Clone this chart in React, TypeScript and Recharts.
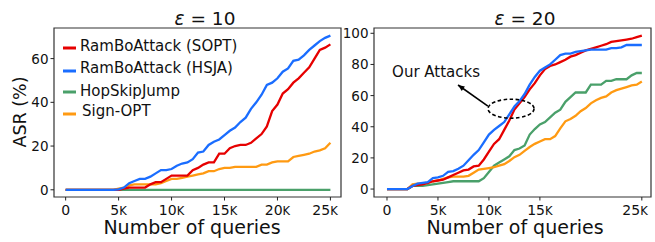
import React from "react";
import {
  LineChart,
  Line,
  XAxis,
  YAxis,
  ReferenceArea,
  ReferenceDot,
  ReferenceLine,
} from "recharts";

const FONT = "DejaVu Sans, sans-serif";

const queries = [
  0, 500, 1000, 1500, 2000, 2500, 3000, 3500, 4000, 4500, 5000, 5500, 6000, 6500, 7000, 7500, 8000,
  8500, 9000, 9500, 10000, 10500, 11000, 11500, 12000, 12500, 13000, 13500, 14000, 14500, 15000,
  15500, 16000, 16500, 17000, 17500, 18000, 18500, 19000, 19500, 20000, 20500, 21000, 21500, 22000,
  22500, 23000, 23500, 24000, 24500, 25000,
];

const xTicks = [0, 5000, 10000, 15000, 20000, 25000];
const yTicksEps10 = [0, 20, 40, 60];
const yTicksEps20 = [0, 20, 40, 60, 80, 100];

// eps = 10
const soptEps10 = [
  0, 0, 0, 0, 0, 0, 0, 0, 0, 0, 0, 0.5, 1, 1, 1, 1, 2.5, 3.5, 3.5, 5, 6.5, 6.5, 6.5, 6.5, 9, 10,
  11.5, 12.5, 12.5, 16.5, 16.5, 19, 20, 20.5, 20.5, 21.5, 23.5, 25.5, 29, 36, 39, 44, 46, 49, 51,
  53.5, 56, 60, 64, 65, 66.5,
];
const hsjaEps10 = [
  0, 0, 0, 0, 0, 0, 0, 0, 0, 0, 0.2, 1, 3, 4, 5, 5, 6, 7.5, 9, 9, 9.5, 11, 12, 12.5, 14, 17, 17.5,
  20.5, 22, 23, 25, 27, 28.5, 31, 33, 37, 40, 43.5, 48, 49, 51, 54, 55.5, 59, 59.5, 61.5, 64, 66,
  68, 69.5, 70.5,
];
const hopEps10 = [
  0, 0, 0, 0, 0, 0, 0, 0, 0, 0, 0, 0, 0, 0, 0, 0, 0, 0, 0, 0, 0, 0, 0, 0, 0, 0, 0, 0, 0, 0, 0, 0,
  0, 0, 0, 0, 0, 0, 0, 0, 0, 0, 0, 0, 0, 0, 0, 0, 0, 0, 0,
];
const signEps10 = [
  0, 0, 0, 0, 0, 0, 0, 0, 0, 0, 0.5, 1, 2, 2.5, 2.5, 2.5, 2.5, 2.5, 3, 4, 5, 5, 5.5, 6, 6.5, 7,
  7.5, 8.5, 8.5, 9.5, 10, 10, 10.5, 10.5, 10.5, 10.5, 10.5, 11.5, 11.5, 12.5, 13, 13, 13, 15, 15.5,
  16, 16.5, 17.5, 18, 19, 21.5,
];

// eps = 20
const soptEps20 = [
  0, 0, 0, 0, 0, 2, 2.5, 3, 4, 5, 5.5, 6, 7.5, 9, 10.5, 12, 12.5, 14.5, 15, 19, 24, 29, 32, 38, 44,
  51, 55, 59, 64, 68, 73, 77, 79, 80, 81.5, 83, 85, 86, 87.5, 89, 90, 91, 92, 93, 94.5, 95, 95.5,
  96, 96.5, 97.5, 98.5,
];
const hsjaEps20 = [
  0, 0, 0, 0, 0, 2, 3.5, 4, 4.5, 7, 7.5, 8.5, 11, 11.5, 13, 15, 18.5, 22, 25, 30, 35, 38, 40.5, 43,
  48, 53, 56.5, 61, 67, 72, 76, 78, 80, 83, 86, 87, 87, 88, 88.5, 89, 89.5, 89.5, 89.5, 89.5, 90.5,
  90.5, 91, 92.5, 92.5, 92.5, 92.5,
];
const hopEps20 = [
  0, 0, 0, 0, 0, 2, 2, 2, 2.5, 3, 3.5, 4, 4.5, 5, 5, 5, 5, 5, 5, 7, 11, 15, 17, 19, 21, 25, 26, 28,
  35, 38.5, 41.5, 43, 46, 49, 51, 56, 59, 62, 62, 62, 67, 67, 67, 69.5, 69.5, 70.5, 70.5, 70.5, 73,
  74.5, 74.5,
];
const signEps20 = [
  0, 0, 0, 0, 0, 3, 3.5, 3.5, 4, 5, 5.5, 6.5, 7.5, 8, 8, 8, 8.5, 10.5, 12.5, 13, 13.5, 14, 15, 16,
  18, 20.5, 22, 24.5, 27, 29, 30.5, 32, 32, 34, 39, 43.5, 45, 47, 50, 52, 55, 57, 58.5, 59.5, 62,
  63.5, 64.5, 65.5, 66.5, 67, 69,
];

const seriesNames = ["RamBoAttack (SOPT)", "RamBoAttack (HSJA)", "HopSkipJump", "Sign-OPT"];
const seriesColors = ["#e60000", "#1a6dff", "#4aa06a", "#ff9a12"];

const buildRows = (sopt: number[], hsja: number[], hop: number[], sign: number[]) =>
  queries.map((q, i) => ({ q, sopt: sopt[i], hsja: hsja[i], hop: hop[i], sign: sign[i] }));

const rowsEps10 = buildRows(soptEps10, hsjaEps10, hopEps10, signEps10);
const rowsEps20 = buildRows(soptEps20, hsjaEps20, hopEps20, signEps20);

function KTick(props: any) {
  const { x, y, payload } = props;
  const v = payload.value as number;
  return (
    <text x={x} y={y + 12} textAnchor="middle" fontFamily={FONT} fontSize={14} fill="#111">
      {v === 0 ? (
        "0"
      ) : (
        <>
          <tspan>{v / 1000}</tspan>
          <tspan fontSize={11.5}>K</tspan>
        </>
      )}
    </text>
  );
}

function YTick(props: any) {
  const { x, y, payload } = props;
  return (
    <text x={x} y={y} dy={5} textAnchor="end" fontFamily={FONT} fontSize={13.5} fill="#111">
      {payload.value}
    </text>
  );
}

function Panel({
  rows,
  xDomain,
  yDomain,
  yTicks,
  width,
  yAxisWidth,
  children,
}: {
  rows: any[];
  xDomain: [number, number];
  yDomain: [number, number];
  yTicks: number[];
  width: number;
  yAxisWidth: number;
  children?: React.ReactNode;
}) {
  return (
    <LineChart width={width} height={242} data={rows} margin={{ top: 28, right: 4, bottom: 0, left: 0 }}>
      <XAxis
        dataKey="q"
        type="number"
        domain={xDomain}
        ticks={xTicks}
        height={45}
        axisLine={false}
        tickSize={3.5}
        tickLine={{ stroke: "#222" }}
        tick={<KTick />}
        allowDataOverflow
      />
      <YAxis
        type="number"
        domain={yDomain}
        ticks={yTicks}
        width={yAxisWidth}
        axisLine={false}
        tickSize={3.5}
        tickLine={{ stroke: "#222" }}
        tick={<YTick />}
        allowDataOverflow
      />
      <ReferenceArea
        x1={xDomain[0]}
        x2={xDomain[1]}
        y1={yDomain[0]}
        y2={yDomain[1]}
        fill="none"
        stroke="#333"
        strokeWidth={1.2}
        ifOverflow="visible"
      />
      <Line dataKey="hop" stroke={seriesColors[2]} strokeWidth={2.3} dot={false} isAnimationActive={false} />
      <Line dataKey="sign" stroke={seriesColors[3]} strokeWidth={2.3} dot={false} isAnimationActive={false} />
      <Line dataKey="sopt" stroke={seriesColors[0]} strokeWidth={2.3} dot={false} isAnimationActive={false} />
      <Line dataKey="hsja" stroke={seriesColors[1]} strokeWidth={2.3} dot={false} isAnimationActive={false} />
      {children}
    </LineChart>
  );
}

function ArrowShape(props: any) {
  const { x1, y1, x2, y2 } = props;
  const ang = Math.atan2(y2 - y1, x2 - x1);
  const len = 7;
  const spread = 0.4;
  const ax = x2 - len * Math.cos(ang - spread);
  const ay = y2 - len * Math.sin(ang - spread);
  const bx = x2 - len * Math.cos(ang + spread);
  const by = y2 - len * Math.sin(ang + spread);
  return (
    <g>
      <line x1={x1} y1={y1} x2={x2} y2={y2} stroke="#000" strokeWidth={1.6} />
      <polygon points={`${x2},${y2} ${ax},${ay} ${bx},${by}`} fill="#000" />
    </g>
  );
}

export default function App() {
  return (
    <div style={{ position: "absolute", left: 0, top: 0, width: 655, height: 242, background: "#fff" }}>
      <div style={{ position: "absolute", left: 0, top: 0 }}>
        <Panel rows={rowsEps10} xDomain={[-1100, 26000]} yDomain={[-3.3, 74]} yTicks={yTicksEps10} width={345} yAxisWidth={54} />
      </div>
      <div style={{ position: "absolute", left: 330, top: 0 }}>
        <Panel rows={rowsEps20} xDomain={[-1275, 25900]} yDomain={[-5.1, 103.4]} yTicks={yTicksEps20} width={325} yAxisWidth={44}>
          <ReferenceDot
            x={12170}
            y={51.6}
            ifOverflow="visible"
            shape={(p: any) => (
              <ellipse cx={p.cx} cy={p.cy} rx={23} ry={9.5} fill="none" stroke="#000" strokeWidth={1.6} strokeDasharray="3.5 2.5" />
            )}
          />
          <ReferenceLine
            segment={[
              { x: 9900, y: 53.3 },
              { x: 6970, y: 66.8 },
            ]}
            ifOverflow="visible"
            shape={<ArrowShape />}
          />
          <ReferenceDot
            x={500}
            y={72}
            ifOverflow="visible"
            shape={(p: any) => (
              <text x={p.cx} y={p.cy} fontFamily={FONT} fontSize={15} fill="#111">
                Our Attacks
              </text>
            )}
          />
        </Panel>
      </div>
      <svg width={655} height={242} style={{ position: "absolute", left: 0, top: 0, pointerEvents: "none" }}>
        <text x={205} y={25} textAnchor="middle" fontFamily={FONT} fontSize={18.5} fill="#111">
          <tspan fontStyle="italic">ε</tspan> = 10
        </text>
        <text x={525} y={25} textAnchor="middle" fontFamily={FONT} fontSize={18.5} fill="#111">
          <tspan fontStyle="italic">ε</tspan> = 20
        </text>
        <text
          x={0}
          y={0}
          transform="translate(26,112) rotate(-90)"
          textAnchor="middle"
          fontFamily={FONT}
          fontSize={17.5}
          fill="#111"
        >
          ASR (%)
        </text>
        <text x={192} y={234} textAnchor="middle" fontFamily={FONT} fontSize={19} fill="#111">
          Number of queries
        </text>
        <text x={515} y={234} textAnchor="middle" fontFamily={FONT} fontSize={19} fill="#111">
          Number of queries
        </text>
        {seriesNames.map((name, i) => {
          const ys = [48, 71, 92, 114];
          const ty = [51, 73, 96, 116];
          return (
            <g key={name}>
              <line x1={63} x2={76} y1={ys[i]} y2={ys[i]} stroke={seriesColors[i]} strokeWidth={3} />
              <text x={i === 3 ? 82 : 80} y={ty[i]} fontFamily={FONT} fontSize={15} fill="#111">
                {name}
              </text>
            </g>
          );
        })}
      </svg>
    </div>
  );
}
